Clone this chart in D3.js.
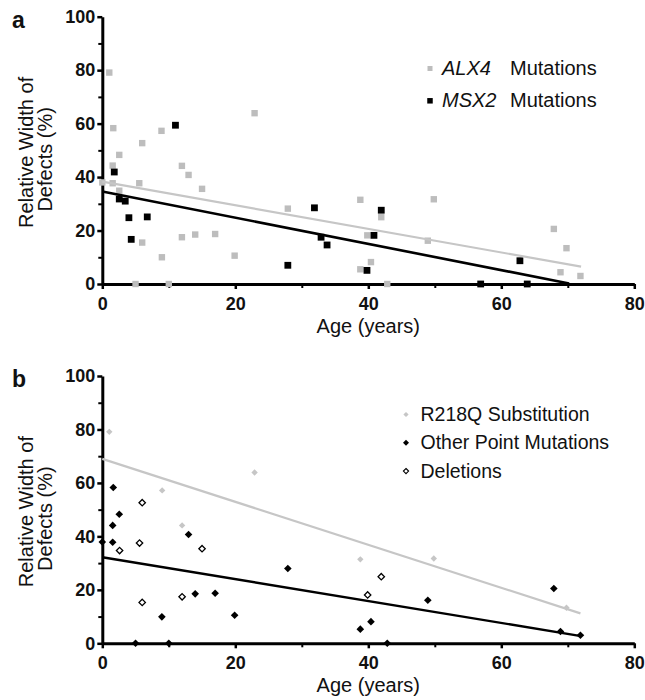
<!DOCTYPE html>
<html><head><meta charset="utf-8">
<script src="https://cdn.jsdelivr.net/npm/d3@7/dist/d3.min.js"></script>
<style>
body{margin:0;background:#fff;}
svg{display:block;font-family:"Liberation Sans",Arial,Helvetica,sans-serif;}
</style></head>
<body><svg id="chart" width="645" height="700"></svg>
<script>
// ---------- DATA ----------
const xTicks = [0, 20, 40, 60, 80];
const xMinor = [10, 30, 50, 70];
const yTicks = [0, 20, 40, 60, 80, 100];
const yMinor = [10, 30, 50, 70, 90];

// panel a
const alx4X = [1.05,1.65,2.55,1.56,1.56,0,2.55,5.56,6.0,8.9,11.97,12.97,15.0,6.0,8.96,11.97,13.97,16.97,19.9,5,10,22.9,27.9,38.8,49.85,41.95,39.85,40.4,38.8,42.85,48.95,67.9,69.8,68.9,71.9];
const alx4Y = [79.1,58.3,48.3,44.3,37.7,38,34.9,37.7,52.7,57.3,44.2,40.8,35.6,15.5,10.0,17.5,18.5,18.7,10.6,0,0,63.9,28.2,31.5,31.7,25.0,18.2,8.2,5.5,0,16.2,20.6,13.4,4.4,3.0];
const msx2X = [1.8,2.55,3.45,4.0,4.35,6.76,11.0,27.9,31.9,32.9,33.8,41.95,40.85,39.8,56.9,62.8,63.9];
const msx2Y = [41.9,31.8,31.0,24.8,16.7,25.1,59.4,7.0,28.5,17.5,14.6,27.6,18.2,5.1,0,8.7,0];
const alx4FitX = [0, 72];
const alx4FitY = [38.3, 6.5];
const msx2FitX = [0, 70.2];
const msx2FitY = [34.6, 0.2];

// panel b
const r218qX = [1.05,9.0,12.0,22.9,38.8,49.85,69.8];
const r218qY = [79.1,57.2,44.1,63.9,31.4,31.7,13.3];
const otherX = [1.65,2.55,1.56,1.56,0,12.97,13.97,16.97,8.96,19.9,5,10,27.9,40.4,38.8,42.85,48.95,67.9,68.9,71.9];
const otherY = [58.3,48.3,44.1,37.8,37.9,40.7,18.5,18.7,9.9,10.5,0,0,28.0,8.1,5.3,0,16.1,20.5,4.4,3.0];
const deletionX = [6.0,5.6,2.6,6.0,12.0,15.0,41.95,39.9];
const deletionY = [52.6,37.5,34.7,15.3,17.4,35.4,24.9,18.1];
const r218qFitX = [0, 71.9];
const r218qFitY = [69.0, 11.2];
const otherFitX = [0, 72];
const otherFitY = [32.2, 2.7];

const legendA = [
  {gene: "ALX4", rest: "Mutations", kind: "gray"},
  {gene: "MSX2", rest: "Mutations", kind: "black"}
];
const legendB = [
  {label: "R218Q Substitution", kind: "gray"},
  {label: "Other Point Mutations", kind: "black"},
  {label: "Deletions", kind: "open"}
];

// ---------- DRAW ----------
const svg = d3.select("#chart");
const GRAY = "#bdbdbd", LGRAY = "#c6c6c6";

function zip(xs, ys){ return xs.map((x,i)=>[x, ys[i]]); }

function panel(top, letter){
  const x = d3.scaleLinear().domain([0,80]).range([102.3, 634.3]);
  const y = d3.scaleLinear().domain([0,100]).range([top+267.3, top]);
  const g = svg.append("g");

  // minor ticks
  const ax = g.append("g").attr("transform",`translate(0,${y(0)})`);
  ax.append("g").call(d3.axisBottom(x).tickValues(xMinor).tickSize(4).tickFormat("").tickSizeOuter(0))
    .call(s=>s.select(".domain").remove())
    .call(s=>s.selectAll("line").attr("stroke-width",2));
  ax.append("g").call(d3.axisBottom(x).tickValues(xTicks).tickSize(5).tickPadding(8).tickSizeOuter(0))
    .call(s=>s.select(".domain").attr("stroke-width",3))
    .call(s=>s.selectAll("line").attr("stroke-width",2.5))
    .call(s=>s.selectAll("text").attr("font-size",18).attr("font-weight","bold").attr("fill","#111")
      .attr("font-family",'"Liberation Sans",Arial,sans-serif'));

  const ay = g.append("g").attr("transform",`translate(${x(0)},0)`);
  ay.append("g").call(d3.axisLeft(y).tickValues(yMinor).tickSize(4).tickFormat("").tickSizeOuter(0))
    .call(s=>s.select(".domain").remove())
    .call(s=>s.selectAll("line").attr("stroke-width",2));
  ay.append("g").call(d3.axisLeft(y).tickValues(yTicks).tickSize(5).tickPadding(2).tickSizeOuter(0))
    .call(s=>s.select(".domain").attr("stroke-width",3))
    .call(s=>s.selectAll("line").attr("stroke-width",2.5))
    .call(s=>s.selectAll("text").attr("font-size",18).attr("font-weight","bold").attr("fill","#111")
      .attr("font-family",'"Liberation Sans",Arial,sans-serif'));

  // titles
  g.append("text").attr("x", x(40)).attr("y", y(0)+49).attr("text-anchor","middle")
    .attr("font-size",20).attr("fill","#111").text("Age (years)");
  const cy = y(48.5);
  g.append("text").attr("transform",`translate(33,${cy-2}) rotate(-90)`).attr("text-anchor","middle")
    .attr("font-size",20).attr("fill","#111").text("Relative Width of");
  g.append("text").attr("transform",`translate(52,${cy+5}) rotate(-90)`).attr("text-anchor","middle")
    .attr("font-size",20).attr("fill","#111").text("Defects (%)");
  g.append("text").attr("x",12).attr("y",top+11).attr("font-size",23).attr("font-weight","bold")
    .attr("fill","#111").text(letter);
  return {g, x, y};
}

// ----- panel a -----
{
  const {g, x, y} = panel(16.7, "a");
  const s = 6.4;
  g.append("g").selectAll("rect").data(zip(alx4X, alx4Y)).join("rect")
    .attr("x", d=>x(d[0])-s/2).attr("y", d=>y(d[1])-s/2).attr("width", s).attr("height", s)
    .attr("fill", GRAY);
  g.append("g").selectAll("rect").data(zip(msx2X, msx2Y)).join("rect")
    .attr("x", d=>x(d[0])-3.4).attr("y", d=>y(d[1])-3.4).attr("width", 6.8).attr("height", 6.8)
    .attr("fill", "#000");
  const line = d3.line().x(d=>x(d[0])).y(d=>y(d[1]));
  g.append("path").attr("d", line(zip(alx4FitX, alx4FitY))).attr("stroke", LGRAY).attr("stroke-width",2.2).attr("fill","none");
  g.append("path").attr("d", line(zip(msx2FitX, msx2FitY))).attr("stroke", "#000").attr("stroke-width",2.6).attr("fill","none");

  const lg = g.append("g");
  legendA.forEach((d,i)=>{
    const yy = 75 + i*32.3;
    const sz = d.kind==="gray" ? 5 : 5.5;
    lg.append("rect").attr("x",430-sz/2).attr("y",yy-6.5-sz/2).attr("width",sz).attr("height",sz)
      .attr("fill", d.kind==="gray"?GRAY:"#000");
    const t = lg.append("text").attr("x",442).attr("y",yy).attr("font-size",20).attr("fill","#111");
    t.append("tspan").attr("font-style","italic").text(d.gene);
    t.append("tspan").attr("x",510).text(d.rest);
  });
}

// ----- panel b -----
{
  const {g, x, y} = panel(376, "b");
  const diamond = (r)=>`M0,${-r}L${r},0L0,${r}L${-r},0Z`;
  g.append("g").selectAll("path").data(zip(r218qX, r218qY)).join("path")
    .attr("transform", d=>`translate(${x(d[0])},${y(d[1])})`).attr("d", diamond(3.2)).attr("fill", LGRAY);
  g.append("g").selectAll("path").data(zip(otherX, otherY)).join("path")
    .attr("transform", d=>`translate(${x(d[0])},${y(d[1])})`).attr("d", diamond(3.8)).attr("fill", "#000");
  g.append("g").selectAll("path").data(zip(deletionX, deletionY)).join("path")
    .attr("transform", d=>`translate(${x(d[0])},${y(d[1])})`).attr("d", diamond(3.2))
    .attr("fill", "#fff").attr("stroke","#000").attr("stroke-width",1.3);
  const line = d3.line().x(d=>x(d[0])).y(d=>y(d[1]));
  g.append("path").attr("d", line(zip(r218qFitX, r218qFitY))).attr("stroke", LGRAY).attr("stroke-width",2.2).attr("fill","none");
  g.append("path").attr("d", line(zip(otherFitX, otherFitY))).attr("stroke", "#000").attr("stroke-width",2.4).attr("fill","none");

  const lg = g.append("g");
  legendB.forEach((d,i)=>{
    const yy = 421 + i*28.3;
    const p = lg.append("path").attr("transform",`translate(406,${yy-6.5})`);
    if (d.kind==="gray") p.attr("d", diamond(2.6)).attr("fill", LGRAY);
    else if (d.kind==="black") p.attr("d", diamond(3)).attr("fill", "#000");
    else p.attr("d", diamond(2.6)).attr("fill","#fff").attr("stroke","#000").attr("stroke-width",1.1);
    lg.append("text").attr("x",420.5).attr("y",yy).attr("font-size",19.5).attr("fill","#111").text(d.label);
  });
}
</script></body></html>
